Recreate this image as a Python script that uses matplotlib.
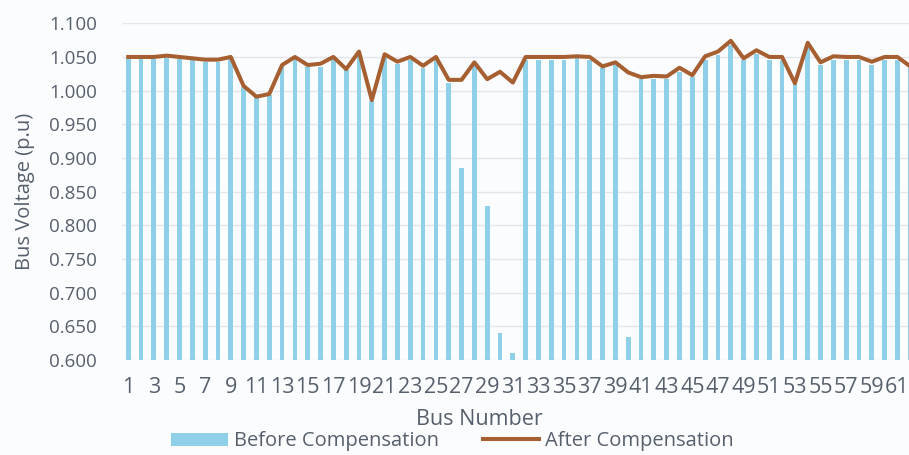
import numpy as np
import matplotlib.pyplot as plt

# Bus voltages (p.u)
buses = np.arange(1, 63)
before = [1.047, 1.047, 1.047, 1.048, 1.047, 1.045, 1.043, 1.043, 1.047, 1.006,
          0.990, 0.993, 1.036, 1.047, 1.035, 1.035, 1.047, 1.030, 1.055, 0.984,
          1.048, 1.040, 1.046, 1.033, 1.046, 1.011, 0.885, 1.036, 0.829, 0.640,
          0.611, 1.046, 1.046, 1.046, 1.046, 1.048, 1.046, 1.033, 1.038, 0.634,
          1.017, 1.018, 1.017, 1.028, 1.020, 1.046, 1.053, 1.068, 1.046, 1.055,
          1.046, 1.046, 1.010, 1.063, 1.038, 1.046, 1.046, 1.046, 1.038, 1.046,
          1.046, 1.033]
after = [1.050, 1.050, 1.050, 1.052, 1.050, 1.048, 1.046, 1.046, 1.050, 1.007,
         0.991, 0.995, 1.038, 1.050, 1.038, 1.040, 1.050, 1.032, 1.058, 0.986,
         1.054, 1.043, 1.050, 1.037, 1.050, 1.016, 1.016, 1.042, 1.017, 1.028,
         1.012, 1.050, 1.050, 1.050, 1.050, 1.051, 1.050, 1.036, 1.042, 1.027,
         1.020, 1.022, 1.021, 1.034, 1.023, 1.051, 1.058, 1.074, 1.048, 1.060,
         1.050, 1.050, 1.011, 1.071, 1.042, 1.051, 1.050, 1.050, 1.043, 1.050,
         1.050, 1.036]
yticks = np.arange(0.60, 1.1001, 0.05)

plt.rcParams['font.family'] = ['Open Sans', 'DejaVu Sans']
text_col = '#56606c'

fig = plt.figure(figsize=(9.09, 4.55), dpi=100, facecolor='#fbfcfe')
ax = fig.add_axes([0.134, 0.2088, 0.866, 0.74])
ax.set_facecolor('#fbfcfe')

bars = ax.bar(buses, before, width=0.37, color='#8dd0e8', label='Before Compensation', zorder=2)
line, = ax.plot(buses, after, color='#a65f30', lw=2.9, label='After Compensation', zorder=3)

ax.set_xlim(0.5, 61.9)
ax.set_ylim(0.6, 1.1)
ax.set_yticks(yticks)
ax.set_yticklabels([f'{v:.3f}' for v in yticks])
ax.set_xticks(buses[::2])
ax.set_xticklabels([str(b) for b in buses[::2]])
ax.grid(axis='y', color='#e4e6ea', lw=1, zorder=0)
for s in ax.spines.values():
    s.set_visible(False)
ax.tick_params(axis='y', length=0, pad=18, labelsize=13.5, labelcolor=text_col)
ax.tick_params(axis='x', length=0, pad=12, labelsize=15.5, labelcolor=text_col)

ax.set_ylabel('Bus Voltage (p.u)', fontsize=14.5, color=text_col, labelpad=10)
ax.set_xlabel('Bus Number', fontsize=15.5, color=text_col)
ax.xaxis.set_label_coords(0.454, -0.145)

fig.legend([bars, line], ['Before Compensation', 'After Compensation'],
           loc='center', bbox_to_anchor=(0.498, 0.03), ncol=2, frameon=False,
           fontsize=14.5, labelcolor=text_col, handlelength=2.8, handleheight=0.65,
           handletextpad=0.3, columnspacing=2.2, borderpad=0.15)

fig.savefig('out.png', dpi=100, facecolor=fig.get_facecolor())
